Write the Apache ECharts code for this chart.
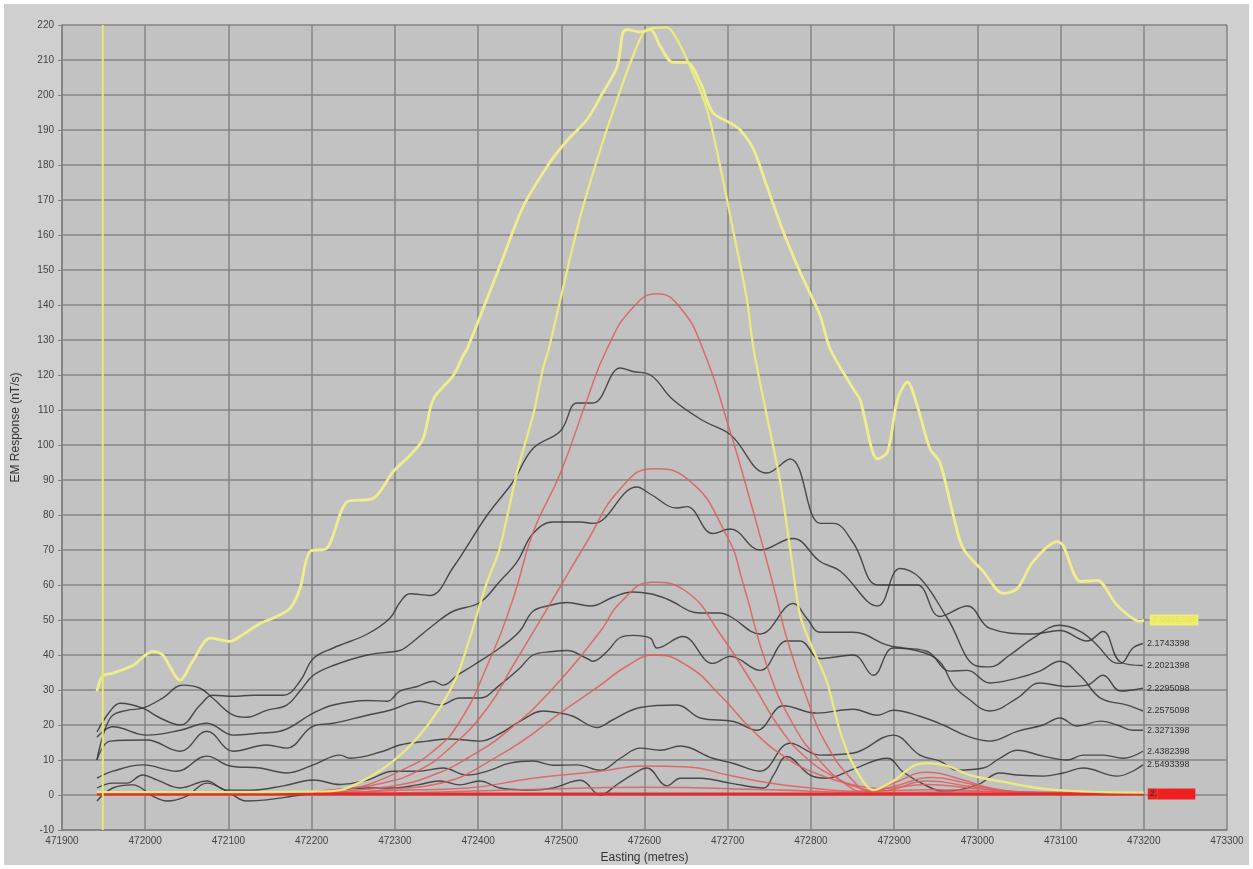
<!DOCTYPE html>
<html>
<head>
<meta charset="utf-8">
<script src="https://cdn.jsdelivr.net/npm/echarts@6/dist/echarts.min.js"></script>
<style>html,body{margin:0;padding:0;background:#fff}#c{width:1253px;height:869px}</style>
</head>
<body>
<div id="c"></div>
<script>
// ---- data (Easting, EM response) ----
const lineLabels = ['2.2021398','2.1743398','2.2575098','2.2295098','2.3271398','2.4382398','2.5493398'];
const yellowLabel = '2.0965398';
const redLabel = '2.6604398';

const verticalMarker = [[471949,-10],[471949,220]];

const yellowBroad = [[471942,29.7],[471949,34],[471961,34.8],[471985,37],[472009,41],[472021,40],[472042,32.8],[472057,38.2],[472078,44.8],[472102,43.9],[472114,45.3],[472138,49],[472158,51],[472174,53.3],[472186,59],[472198,69.6],[472218,70.4],[472243,83.8],[472274,84.7],[472298,92.4],[472318,97],[472334,101.8],[472346,113],[472370,119.8],[472382,125.5],[472387,127.5],[472426,151],[472454,168],[472483,179.6],[472507,187],[472531,193],[472550,200.7],[472567,208],[472574,217.8],[472579,218.7],[472595,218],[472607,218.7],[472619,213.9],[472634,209.3],[472651,209.3],[472667,203.6],[472682,195],[472703,192],[472715,190],[472731,184.5],[472747,174],[472767,160.8],[472787,149.4],[472811,137],[472823,127.5],[472851,116],[472859,113],[472880,96],[472892,98],[472904,113],[472916,118],[472928,111],[472943,99],[472955,95],[472971,80],[472983,70.4],[473007,63.9],[473031,57.6],[473048,59],[473067,66.7],[473096,72.4],[473103,71.3],[473124,61],[473144,61.3],[473168,54.2],[473196,49.6],[473200,50]];

const yellowNarrow = [[471942,0.8],[472100,0.8],[472200,1],[472234,1.4],[472267,4.8],[472298,9.7],[472327,16.3],[472354,24.8],[472375,34.2],[472390,44.8],[472402,54.2],[472411,61],[472426,70.4],[472447,92.4],[472466,108.4],[472478,121.8],[472485,127.5],[472499,141.7],[472523,165.4],[472547,184.5],[472567,198.7],[472586,211],[472603,218.7],[472627,219.3],[472639,215.9],[472655,208],[472675,196],[472691,179.6],[472707,160.8],[472723,141.7],[472731,127.5],[472747,108.4],[472763,89.5],[472775,70.4],[472787,51.3],[472800,43],[472819,32.5],[472835,18.2],[472851,8.6],[472875,1.4],[472899,4],[472923,8.3],[472940,9.1],[472964,8.3],[472991,5.7],[473039,3.4],[473072,2],[473096,1.4],[473140,0.9],[473200,0.7]];

const blackA = [[471942,18],[471958,24],[471970,26.2],[471997,24.8],[472018,22],[472042,20],[472066,25.7],[472081,28.5],[472106,28.2],[472130,28.5],[472166,28.5],[472186,32.5],[472202,39],[472226,42],[472267,46],[472294,50.5],[472306,55],[472318,57.5],[472342,57],[472370,65],[472411,80],[472442,89.5],[472466,99],[472499,104],[472519,112],[472538,112],[472571,122],[472586,121],[472607,120],[472634,113],[472670,107],[472703,103],[472747,92],[472775,96],[472811,77.6],[472827,77.6],[472851,72],[472880,60],[472907,60],[472928,60],[472955,51],[472988,54],[473015,47.6],[473067,46],[473099,47],[473132,44],[473151,46.7],[473172,38],[473199,37]];

const blackB = [[471942,10],[471958,22],[471978,24.2],[471997,24.8],[472021,27.7],[472045,31.4],[472066,30.5],[472081,27.7],[472106,22.8],[472122,22.2],[472146,24.2],[472170,25.7],[472186,29.7],[472202,34.2],[472226,37],[472267,40],[472306,41.3],[472315,42.5],[472346,48.5],[472370,52.5],[472402,55],[472426,61],[472447,66.7],[472466,74.7],[472490,78],[472523,78],[472538,77.6],[472591,88],[472607,86],[472639,82],[472651,82.4],[472682,74.7],[472703,76],[472739,70],[472771,73],[472779,73.3],[472811,66.7],[472835,64],[472880,54],[472907,64.7],[472931,62],[472964,50.5],[473000,36.8],[473015,36.6],[473039,40],[473067,44.8],[473099,48.5],[473124,46.7],[473144,42.8],[473163,38],[473172,37.6],[473187,42],[473199,43.3]];

const blackC = [[471942,16.5],[471961,19.5],[472002,17.1],[472042,18.5],[472074,20.5],[472106,17.1],[472138,17.7],[472162,18.2],[472202,23.4],[472226,25.7],[472267,27],[472291,26.8],[472306,29.7],[472327,31],[472346,32.5],[472358,31.4],[472375,34.2],[472394,37],[472426,42],[472450,46.8],[472466,52.5],[472487,54.2],[472507,55],[472535,54],[472562,56.5],[472586,58],[472607,57.5],[472627,56],[472667,52],[472691,52],[472703,51],[472739,46],[472779,54.7],[472795,50.5],[472811,46.5],[472851,46.5],[472892,42.8],[472911,42],[472940,41],[472967,35.4],[472988,35.6],[473015,32],[473048,33.4],[473075,35.4],[473099,38.2],[473124,34],[473148,27.7],[473180,25.7],[473199,24]];

const blackD = [[471942,10],[471958,15.4],[472002,15.7],[472042,12.5],[472074,18.2],[472106,12.5],[472146,14.3],[472170,13.4],[472202,19.7],[472226,20.5],[472267,22.8],[472294,24.2],[472330,26.8],[472354,25.7],[472378,27.7],[472402,27.7],[472426,31.4],[472450,36.2],[472466,40],[472490,41],[472507,41.3],[472531,39],[472538,38.2],[472555,41],[472571,45],[472586,45.6],[472607,44.8],[472615,42],[472646,45.3],[472682,37.6],[472703,39.6],[472739,35.6],[472771,44],[472787,44],[472811,39],[472851,40],[472875,34.2],[472899,42],[472931,41],[472955,38],[472971,31.4],[472988,27.7],[473015,24],[473048,27.7],[473075,32],[473108,31],[473132,31.4],[473151,34.2],[473172,29.7],[473199,30.5]];

const blackE = [[471942,4.8],[471961,6.8],[471997,8.6],[472038,6.8],[472074,11.1],[472102,8.3],[472138,7.7],[472170,6.3],[472202,8.6],[472234,11.4],[472246,10.5],[472286,12.5],[472306,14.3],[472339,15.4],[472366,16],[472402,15.4],[472426,17.5],[472450,21],[472478,24],[472499,23.4],[472514,22.5],[472543,19.3],[472562,21.5],[472595,25],[472639,25.7],[472667,22],[472707,21],[472735,18.5],[472767,25.5],[472807,23.4],[472851,24.5],[472880,22.8],[472899,24.2],[472931,22.5],[472959,20],[472988,16.8],[473015,15.4],[473048,18.2],[473079,20],[473099,22],[473120,19.7],[473148,21.1],[473168,20],[473187,18.5],[473199,18.5]];

const blackF = [[471942,2],[471961,3.4],[471978,3.4],[471997,5.7],[472014,4.3],[472042,2],[472074,4],[472098,1.4],[472126,1.4],[472166,2.6],[472202,4.3],[472234,3],[472267,4.3],[472298,6.8],[472327,6.8],[472358,7.7],[472387,5.7],[472411,6.8],[472438,9.1],[472466,9.7],[472490,8.5],[472519,8.6],[472547,7.1],[472571,10.5],[472595,13.4],[472619,12.8],[472643,14],[472682,10.5],[472707,9],[472739,6.8],[472775,14.8],[472811,11.4],[472851,12],[472899,17.1],[472931,11.4],[472955,9.7],[472976,7.1],[473007,7.7],[473027,10.5],[473048,12.8],[473079,11.1],[473108,10],[473127,11.4],[473151,11.4],[473175,10.5],[473199,12.5]];

const blackG = [[471942,-1.7],[471961,2],[471985,2.9],[472009,-0.3],[472026,-1.7],[472050,-0.3],[472074,3.4],[472098,1.1],[472122,-1.7],[472146,-1.4],[472178,-0.3],[472202,0.5],[472226,1.4],[472267,2],[472298,2],[472327,2.9],[472354,4],[472378,2.9],[472402,4],[472426,2],[472466,1.4],[472490,2],[472523,4.2],[472547,0],[472567,3],[472595,7.2],[472603,7.7],[472627,2.6],[472643,4.8],[472667,4.8],[472703,3.4],[472743,2],[472755,5.7],[472771,11],[472799,5.7],[472819,4.8],[472851,7.4],[472892,10.5],[472911,6.5],[472940,2.5],[472959,1.1],[473000,2.9],[473027,6.3],[473048,5.7],[473079,5.4],[473103,6.3],[473127,7.7],[473168,5.4],[473199,8.6]];

const red143 = [[471942,0.2],[472100,0.4],[472200,0.9],[472250,2.0],[472267,2.9],[472306,6.8],[472346,12.5],[472378,21],[472411,37],[472442,56],[472466,75],[472499,92],[472531,113],[472555,127.5],[472585,139],[472615,143.2],[472642,139.5],[472670,127.5],[472703,103.8],[472723,87.5],[472743,70.4],[472759,56],[472771,44.8],[472795,27.7],[472819,14.3],[472851,4],[472871,1],[472900,3.5],[472940,6.5],[472980,4.5],[473020,1.8],[473080,0.6],[473200,0.3]];
const red93 = [[471942,0.2],[472150,0.5],[472250,2],[472286,3.4],[472327,6.8],[472366,13.4],[472411,24.8],[472442,37],[472490,56],[472530,72],[472571,87.5],[472611,93.2],[472651,90.4],[472699,74],[472719,60],[472747,37],[472779,20],[472811,9.7],[472843,2.9],[472865,0.8],[472900,2.5],[472945,5],[472985,3.5],[473030,1.3],[473100,0.5],[473200,0.3]];
const red61 = [[471942,0.2],[472200,0.6],[472260,1.5],[472306,2.9],[472346,5.7],[472387,10.5],[472435,18.2],[472490,30.5],[472547,46.8],[472571,55],[472610,60.8],[472651,58],[472691,46],[472731,31.4],[472763,19],[472795,10.5],[472831,4.8],[472859,2],[472885,1.2],[472940,4],[472990,2.5],[473050,0.8],[473200,0.3]];
const red40 = [[471942,0.2],[472250,0.8],[472300,1.8],[472346,2.9],[472426,11.4],[472507,24.8],[472547,31.4],[472580,37],[472612,40],[472651,37],[472691,28.5],[472731,18.2],[472771,10.5],[472811,5.7],[472851,2.9],[472885,1.8],[472940,3],[472990,2],[473050,0.8],[473200,0.3]];
const red8 = [[471942,0.2],[472250,0.8],[472300,1.3],[472387,2],[472466,4.8],[472547,6.8],[472600,8.3],[472653,8.0],[472700,5.7],[472750,3.4],[472800,2],[472850,1.1],[472950,1.5],[473050,0.7],[473200,0.3]];
const red2 = [[471942,0.2],[472300,0.6],[472450,1.5],[472600,2.2],[472750,1.5],[472870,0.7],[473000,0.9],[473200,0.3]];
const redBase = [[471942,0.3],[473200,0.3]];

// ---- chart ----
const chart = echarts.init(document.getElementById('c'), null, {renderer:'canvas'});
const FONT = 'Liberation Sans, Arial, sans-serif';
function blk(data, label){
  return {type:'line', data, symbol:'none', smooth:0.4, z:4,
    lineStyle:{color:'#383838', width:1.4, opacity:0.88},
    endLabel:{show:true, formatter:label, fontSize:9, color:'#333', fontFamily:FONT, distance:4}};
}
function red(data){
  return {type:'line', data, symbol:'none', smooth:0.5, z:5,
    lineStyle:{color:'#e05c5c', width:1.5, opacity:0.85}};
}
const blacks = [blackA, blackB, blackC, blackD, blackE, blackF, blackG];
const series = [
  {type:'line', data:yellowBroad, symbol:'none', smooth:0.3, z:2,
   lineStyle:{color:'#eeee8e', width:2.8},
   endLabel:{show:true, formatter:yellowLabel, fontSize:9, color:'#e4e45a', backgroundColor:'#eded70', padding:[1,3], fontFamily:FONT, distance:6}},
];
blacks.forEach((d,i)=>series.push(blk(d, lineLabels[i])));
[red143, red93, red61, red40, red8, red2].forEach(d=>series.push(red(d)));
series.push({type:'line', data:redBase, symbol:'none', z:6,
  lineStyle:{color:'#e62a2a', width:3},
  endLabel:{show:true, fontFamily:FONT, distance:4,
    formatter: function(){ const p = redLabel.split('.'); return '{a|' + p[0] + '.}{b|' + p[1] + '}'; },
    rich:{a:{fontSize:9, color:'#333', backgroundColor:'#ee2020', padding:[1,0,1,2]},
          b:{fontSize:9, color:'#ee2020', backgroundColor:'#ee2020', padding:[1,3,1,0]}}}});
series.push({type:'line', data:yellowNarrow, symbol:'none', smooth:0.3, z:7,
   lineStyle:{color:'#ecec7c', width:2.3, opacity:0.95}});
series.push({type:'line', data:verticalMarker, symbol:'none', z:8,
  lineStyle:{color:'#e8e868', width:2}});

chart.setOption({
  animation:false,
  backgroundColor:'#ffffff',
  graphic:[{type:'rect', z:-100, silent:true, shape:{x:4,y:4,width:1245,height:861}, style:{fill:'#cfcfcf'}}],
  grid:{left:62, right:26, top:25, bottom:37, show:true, backgroundColor:'#c2c2c2', borderWidth:0},
  xAxis:{type:'value', min:471900, max:473300, interval:100,
    name:'Easting (metres)', nameLocation:'middle', nameGap:22,
    nameTextStyle:{fontSize:12, color:'#333', fontFamily:FONT},
    axisLabel:{formatter:v=>String(v), fontSize:10, color:'#444', margin:6, fontFamily:FONT},
    axisLine:{onZero:false, lineStyle:{color:'#808080', width:1.5}},
    axisTick:{show:false},
    splitLine:{show:true, lineStyle:{color:'#848484', width:1.5}}},
  yAxis:{type:'value', min:-10, max:220, interval:10,
    name:'EM Response (nT/s)', nameLocation:'middle', nameGap:40, nameRotate:90,
    nameTextStyle:{fontSize:12, color:'#333', fontFamily:FONT},
    axisLabel:{fontSize:10, color:'#444', margin:8, fontFamily:FONT},
    axisLine:{show:true, onZero:false, lineStyle:{color:'#808080', width:1.5}},
    axisTick:{show:true, length:4, lineStyle:{color:'#808080'}},
    splitLine:{show:true, lineStyle:{color:'#848484', width:1.5}}},
  series
});
</script>
</body>
</html>
